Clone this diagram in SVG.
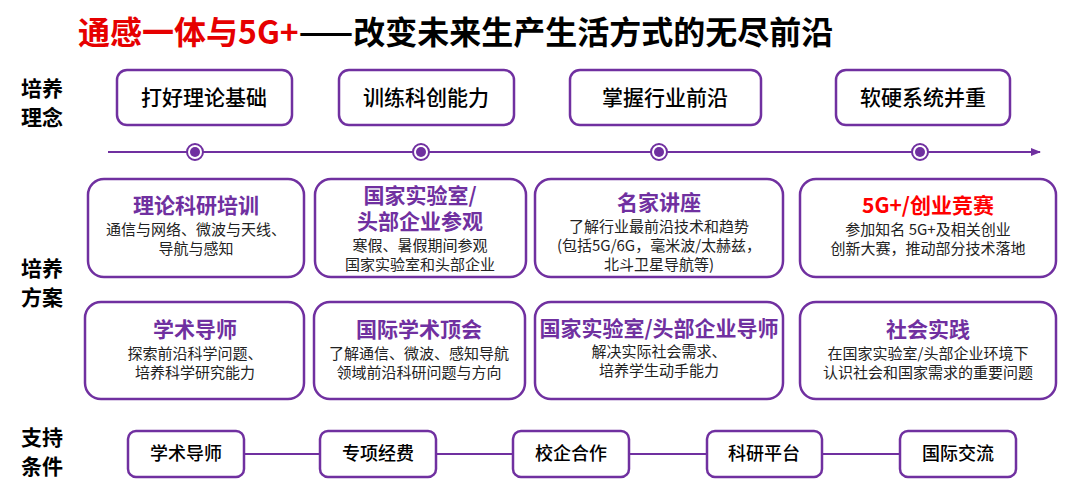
<svg xmlns="http://www.w3.org/2000/svg" width="1080" height="495" viewBox="0 0 1080 495">
<style>
text{font-family:"Noto Sans CJK SC","Noto Sans",sans-serif;text-anchor:middle}
.box{fill:#fff;stroke:#7030A0;stroke-width:2.5}
.lbl{font-size:21px;font-weight:bold;fill:#000}
.top{font-size:21px;fill:#000;font-weight:500}
.h{font-size:21px;font-weight:bold;fill:#7030A0}
.d{font-size:15px;fill:#222}
.sup{font-size:18px;fill:#000;font-weight:500}
.line{stroke:#7030A0;stroke-width:2;fill:none}
</style>
<defs><marker id="ar" markerWidth="10" markerHeight="10" refX="9" refY="5" orient="auto" markerUnits="userSpaceOnUse"><path d="M0,1 L10,5 L0,9 z" fill="#7030A0"/></marker></defs>
<rect width="1080" height="495" fill="#fff"/>
<text x="78" y="44" style="text-anchor:start;font-size:32px;font-weight:bold"><tspan fill="#E60000">通感一体与5G+</tspan><tspan fill="#000">——改变未来生产生活方式的无尽前沿</tspan></text>
<g id="labels">
<text class="lbl" x="42" y="96">培养</text><text class="lbl" x="42" y="125">理念</text>
<text class="lbl" x="42" y="276">培养</text><text class="lbl" x="42" y="305">方案</text>
<text class="lbl" x="42" y="445">支持</text><text class="lbl" x="42" y="474">条件</text>
</g>
<g id="connectors">
<line class="line" x1="108" y1="152" x2="1040" y2="152" marker-end="url(#ar)"/>
<line class="line" x1="244" y1="454" x2="900" y2="454"/>
</g>
<g id="dots" fill="#7030A0">
<g><circle cx="195" cy="152" r="8" fill="#fff" stroke="#7030A0" stroke-width="2"/><circle cx="195" cy="152" r="5"/></g>
<g><circle cx="421" cy="152" r="8" fill="#fff" stroke="#7030A0" stroke-width="2"/><circle cx="421" cy="152" r="5"/></g>
<g><circle cx="659" cy="152" r="8" fill="#fff" stroke="#7030A0" stroke-width="2"/><circle cx="659" cy="152" r="5"/></g>
<g><circle cx="920" cy="152" r="8" fill="#fff" stroke="#7030A0" stroke-width="2"/><circle cx="920" cy="152" r="5"/></g>
</g>
<g id="t1"><rect class="box" x="117" y="70" width="175" height="55" rx="10"/><text class="top" x="204" y="105">打好理论基础</text></g>
<g id="t2"><rect class="box" x="339" y="70" width="175" height="55" rx="10"/><text class="top" x="426" y="105">训练科创能力</text></g>
<g id="t3"><rect class="box" x="570" y="70" width="191" height="55" rx="10"/><text class="top" x="665" y="105">掌握行业前沿</text></g>
<g id="t4"><rect class="box" x="836" y="70" width="174" height="55" rx="10"/><text class="top" x="923" y="105">软硬系统并重</text></g>
<g id="a1"><rect class="box" x="88" y="179" width="216" height="98" rx="16"/><text class="h" x="196" y="213">理论科研培训</text><text class="d" x="196" y="235">通信与网络、微波与天线、</text><text class="d" x="196" y="254">导航与感知</text></g>
<g id="a2"><rect class="box" x="315" y="179" width="211" height="98" rx="16"/><text class="h" x="420" y="203">国家实验室/</text><text class="h" x="420" y="229">头部企业参观</text><text class="d" x="420" y="251">寒假、暑假期间参观</text><text class="d" x="420" y="270">国家实验室和头部企业</text></g>
<g id="a3"><rect class="box" x="535" y="179" width="248" height="98" rx="16"/><text class="h" x="659" y="210">名家讲座</text><text class="d" x="659" y="232">了解行业最前沿技术和趋势</text><text class="d" x="659" y="251">(包括5G/6G，毫米波/太赫兹，</text><text class="d" x="659" y="270">北斗卫星导航等)</text></g>
<g id="a4"><rect class="box" x="800" y="179" width="256" height="98" rx="16"/><text class="h" x="928" y="213" style="fill:#F00">5G+/创业竞赛</text><text class="d" x="928" y="235">参加知名 5G+及相关创业</text><text class="d" x="928" y="254">创新大赛，推动部分技术落地</text></g>
<g id="b1"><rect class="box" x="85" y="302" width="219" height="97" rx="16"/><text class="h" x="195" y="337">学术导师</text><text class="d" x="195" y="359">探索前沿科学问题、</text><text class="d" x="195" y="378">培养科学研究能力</text></g>
<g id="b2"><rect class="box" x="314" y="302" width="211" height="97" rx="16"/><text class="h" x="419" y="337">国际学术顶会</text><text class="d" x="419" y="359">了解通信、微波、感知导航</text><text class="d" x="419" y="378">领域前沿科研问题与方向</text></g>
<g id="b3"><rect class="box" x="535" y="302" width="248" height="97" rx="16"/><text class="h" x="659" y="336">国家实验室/头部企业导师</text><text class="d" x="659" y="357">解决实际社会需求、</text><text class="d" x="659" y="376">培养学生动手能力</text></g>
<g id="b4"><rect class="box" x="800" y="302" width="256" height="97" rx="16"/><text class="h" x="928" y="337">社会实践</text><text class="d" x="928" y="359">在国家实验室/头部企业环境下</text><text class="d" x="928" y="378">认识社会和国家需求的重要问题</text></g>
<g id="s1"><rect class="box" x="128" y="431" width="116" height="46" rx="8"/><text class="sup" x="186" y="460">学术导师</text></g>
<g id="s2"><rect class="box" x="320" y="431" width="116" height="46" rx="8"/><text class="sup" x="378" y="460">专项经费</text></g>
<g id="s3"><rect class="box" x="513" y="431" width="116" height="46" rx="8"/><text class="sup" x="571" y="460">校企合作</text></g>
<g id="s4"><rect class="box" x="707" y="431" width="115" height="46" rx="8"/><text class="sup" x="764" y="460">科研平台</text></g>
<g id="s5"><rect class="box" x="900" y="431" width="116" height="46" rx="8"/><text class="sup" x="958" y="460">国际交流</text></g>
</svg>
